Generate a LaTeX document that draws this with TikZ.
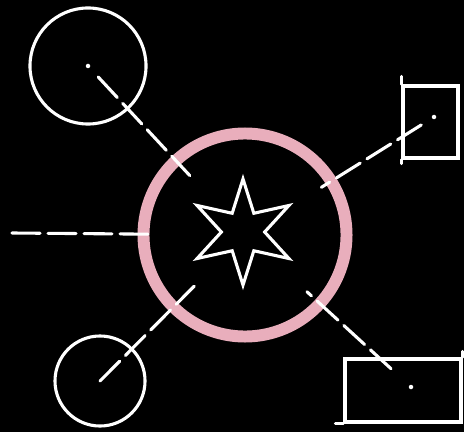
\documentclass[tikz,border=0pt]{standalone}
\usetikzlibrary{shapes.geometric}
\definecolor{ringpink}{RGB}{233,174,188}
\begin{document}
\begin{tikzpicture}[x=0.025cm, y=-0.025cm, line cap=round,
    wire/.style={white, line width=2.2pt, dash pattern=on 0.7cm off 0.2cm},
    outline/.style={draw=white, line width=2.2pt, inner sep=0pt},
    dot/.style={white}]
    % background
    \fill[black] (0,0) rectangle (464,432);
    \useasboundingbox (0,0) rectangle (464,432);

    % hub
    \node[circle, draw=ringpink, line width=8.5pt, minimum size=5.075cm, inner sep=0pt] (hub) at (245,235) {};
    \node[star, star points=6, star point ratio=2.45, minimum size=2.65cm, outline] (star) at (243,232) {};

    % satellites
    \node[circle, outline, minimum size=2.9cm] (nw) at (88,66) {};
    \node[circle, outline, minimum size=2.25cm] (sw) at (100,381) {};
    \node[rectangle, outline, minimum width=1.375cm, minimum height=1.8cm] (neBox) at (430.5,122) {};
    \node[rectangle, outline, minimum width=2.9cm, minimum height=1.575cm] (seBox) at (403,390.5) {};
    \coordinate (ne) at (434,117);
    \coordinate (se) at (411,387);
    \coordinate (w) at (12,233);

    % rough corners
    \draw[white, line width=2.2pt] (neBox.north west) -- ++(0,-8);
    \draw[white, line width=2.2pt] (neBox.south west) -- ++(0,4);
    \draw[white, line width=2.2pt] (seBox.south west) -- ++(-8,0);
    \draw[white, line width=2.2pt] (seBox.north east) -- ++(0,-6);

    % centre dots
    \fill[dot] (nw.center) circle (1.6pt);
    \fill[dot] (ne) circle (1.6pt);
    \fill[dot] (se) circle (1.6pt);

    % connectors
    \draw[wire, shorten <=0.375cm, shorten >=2.025cm] (nw.center) -- (hub.center);
    \draw[wire, shorten >=1.8cm] (sw.center) -- (hub.center);
    \draw[wire, shorten <=0.375cm, shorten >=2.25cm] (ne) -- (hub.center);
    \draw[wire, shorten <=0.675cm, shorten >=2.1cm] (se) -- (hub.center);
    \draw[wire, shorten >=2.425cm] (w) -- (hub.center);
\end{tikzpicture}
\end{document}
